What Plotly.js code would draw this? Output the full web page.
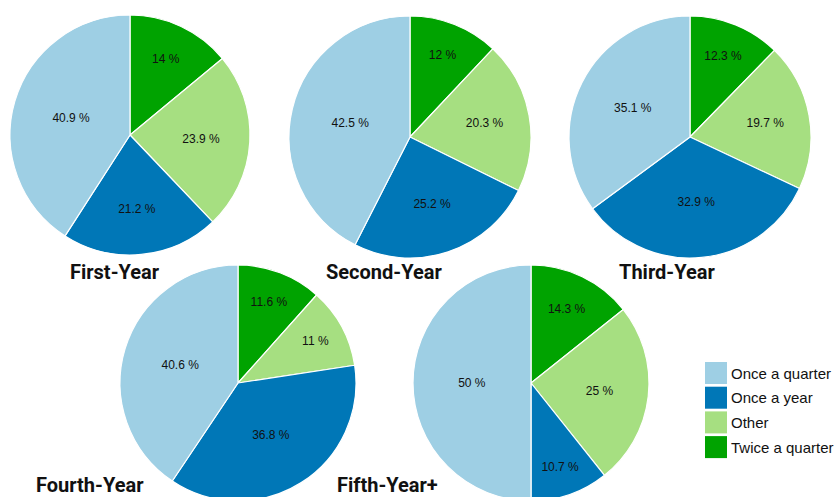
<!DOCTYPE html>
<html>
<head>
<meta charset="utf-8">
<script src="https://cdn.plot.ly/plotly-3.0.1.min.js"></script>
<style>
  html, body { margin: 0; padding: 0; background: #fff; overflow: hidden; }
  #chart { width: 840px; height: 502px; }
</style>
</head>
<body>
<div id="chart"></div>
<script>
// ---- data ----
const categories = ["Once a quarter", "Once a year", "Other", "Twice a quarter"];
const groupNames = ["First-Year", "Second-Year", "Third-Year", "Fourth-Year", "Fifth-Year+"];
const firstYear  = [40.9, 21.2, 23.9, 14];
const secondYear = [42.5, 25.2, 20.3, 12];
const thirdYear  = [35.1, 32.9, 19.7, 12.3];
const fourthYear = [40.6, 36.8, 11, 11.6];
const fifthYear  = [50, 10.7, 25, 14.3];
const colors = ["#9ecfe4", "#0077b7", "#a6df81", "#00a300"];

const seriesValues = [firstYear, secondYear, thirdYear, fourthYear, fifthYear];

// ---- layout geometry (pixels) ----
const W = 840, H = 502;
const boxes = [ // [left, right, top, bottom]
  [10, 250, 15, 255],
  [289, 531, 16, 258],
  [569, 811, 16, 258],
  [120, 356, 265, 501],
  [413, 649, 265, 501]
];
const titlePos = [[115, 272], [384, 272], [667, 272], [90, 485], [387, 485]];

// slices drawn clockwise from 12 o'clock in reverse legend order
const rev = a => a.slice().reverse();

const traces = seriesValues.map((vals, i) => {
  const b = boxes[i];
  return {
    type: "pie",
    labels: rev(categories),
    values: rev(vals),
    sort: false,
    direction: "clockwise",
    rotation: 0,
    marker: { colors: rev(colors), line: { color: "#ffffff", width: 1.2 } },
    texttemplate: "%{value} %",
    textposition: "inside",
    insidetextorientation: "horizontal",
    textfont: { family: "Liberation Sans, Arial, sans-serif", size: 12, color: "#111" },
    hoverinfo: "label+value",
    showlegend: false,
    domain: { x: [b[0] / W, b[1] / W], y: [1 - b[3] / H, 1 - b[2] / H] }
  };
});

const annotations = groupNames.map((name, i) => ({
  text: name,
  xref: "paper", yref: "paper",
  x: titlePos[i][0] / W, y: 1 - titlePos[i][1] / H,
  xanchor: "center", yanchor: "middle",
  showarrow: false,
  font: { family: "Roboto, sans-serif", size: 20, color: "#111", weight: "bold" }
}));

// custom legend
const shapes = [];
categories.forEach((c, i) => {
  const top = 362 + i * 24.7;
  shapes.push({
    type: "rect", xref: "paper", yref: "paper",
    x0: 705 / W, x1: 727 / W, y0: 1 - (top + 22) / H, y1: 1 - top / H,
    fillcolor: colors[i], line: { width: 0 }
  });
  annotations.push({
    text: c, xref: "paper", yref: "paper",
    x: 729 / W, y: 1 - (top + 11) / H,
    xanchor: "left", yanchor: "middle", showarrow: false,
    font: { family: "Liberation Sans, Arial, sans-serif", size: 15, color: "#111" }
  });
});

const layout = {
  width: W, height: H,
  margin: { l: 0, r: 0, t: 0, b: 0 },
  paper_bgcolor: "#ffffff",
  showlegend: false,
  annotations: annotations,
  shapes: shapes
};

Plotly.newPlot("chart", traces, layout, { displayModeBar: false, staticPlot: true });
</script>
</body>
</html>
